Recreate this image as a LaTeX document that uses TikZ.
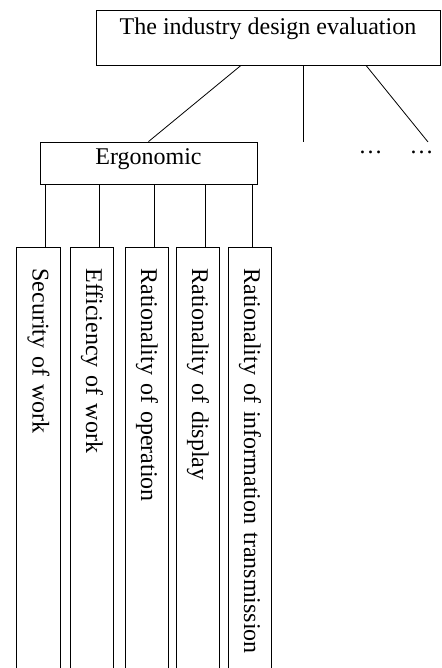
\documentclass[tikz,border=0pt]{standalone}
\usepackage{fontspec}
\setmainfont{Liberation Serif}
\usetikzlibrary{calc}

\begin{document}
\begin{tikzpicture}[x=1pt, y=1pt, line width=0.8pt,
    every node/.style={font=\fontsize{24}{28}\selectfont},
    leafbox/.style={draw, rotate=-90, anchor=west, inner xsep=21pt, inner ysep=0pt,
        minimum height=43.5pt, text width=420pt, align=left}]
    \useasboundingbox (0,0) rectangle (441,668);
    \clip (0,0) rectangle (441,668);

    % Top level
    \node[draw, inner sep=0pt, minimum width=344pt, text height=24.5pt, text depth=30.5pt]
        (top) at (268,630.5) {The industry design evaluation};

    % Second level
    \node[draw, inner sep=0pt, minimum width=217pt, text height=23pt, text depth=19pt]
        (ergo) at (148.5,505) {Ergonomic};
    \coordinate (midend) at (303,526);
    \coordinate (rightend) at (428,526);
    \draw ([xshift=-27pt]top.south) -- (ergo.north);
    \draw ([xshift=35pt]top.south) -- (midend);
    \draw ([xshift=98pt]top.south) -- (rightend);

    % Dots
    \node[anchor=base, inner sep=0pt] (dotsa) at (370.7,514) {…};
    \node[anchor=base, inner sep=0pt] (dotsb) at (421.5,514) {…};

    % Leaves
    \foreach \i/\x/\txt in {1/38.5/Security of work, 2/92/Efficiency of work,
        3/147/Rationality of operation, 4/198/Rationality of display,
        5/250/Rationality of information transmission}
        \node[leafbox] (leaf\i) at (\x,421) {\txt};
    \foreach \i/\dx in {1/6.5, 2/7, 3/7, 4/7, 5/2}
        \draw ([xshift=\dx pt]leaf\i.west) -- ([xshift=\dx pt]leaf\i.west |- ergo.south);
\end{tikzpicture}
\end{document}
